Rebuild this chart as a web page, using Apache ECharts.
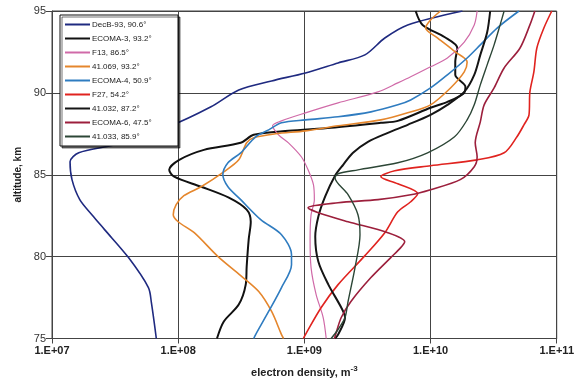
<!DOCTYPE html>
<html>
<head>
<meta charset="utf-8">
<script src="https://cdn.jsdelivr.net/npm/echarts@6/dist/echarts.min.js"></script>
<style>
  html, body { margin: 0; padding: 0; background: #fff; }
  #chart { width: 577px; height: 383px; }
</style>
</head>
<body>
<div id="chart"></div>
<script>
// tick labels
const xTickLabels = ['1.E+07', '1.E+08', '1.E+09', '1.E+10', '1.E+11']
const yTicks = [75, 80, 85, 90, 95]

// profiles: [electron density m-3, altitude km]
const decB93 = [
  [1.79e10, 95.0], [6.59e9, 94.15], [4.34e9, 93.35], [3.02e9, 92.32], [1.85e9, 91.83],
  [1.02e9, 91.22], [5.5e8, 90.73], [3.02e8, 90.18], [1.82e8, 89.15], [8.34e7, 87.93],
  [3.13e7, 86.83], [1.63e7, 86.34], [1.39e7, 85.79], [1.44e7, 84.7], [1.66e7, 83.48],
  [2.07e7, 82.56], [2.61e7, 81.65], [4.04e7, 79.94], [5.81e7, 78.11], [6.13e7, 77.2],
  [6.71e7, 75.0]
]
const ecoma3 = [
  [7.62e9, 95.0], [8.65e9, 94.15], [1.29e10, 93.41], [1.63e10, 92.74], [1.57e10, 91.89],
  [1.57e10, 91.1], [1.89e10, 90.37], [1.82e10, 89.94], [1.36e10, 89.45], [1.0e10, 89.09],
  [5.5e9, 88.29], [4.04e9, 88.17], [1.63e9, 87.87], [7.48e8, 87.68], [3.97e8, 87.44],
  [3.13e8, 86.95], [1.6e8, 86.52], [1.02e8, 85.91], [8.49e7, 85.3], [9.3e7, 84.88],
  [1.52e8, 84.27], [2.52e8, 83.6], [3.49e8, 82.87], [3.76e8, 82.13], [3.62e8, 81.04],
  [3.49e8, 79.39], [3.43e8, 78.29], [3.02e8, 77.07], [2.3e8, 76.04], [2.03e8, 75.0]
]
const f13 = [
  [2.34e10, 95.0], [2.22e10, 94.15], [1.85e10, 93.1], [1.36e10, 92.13], [1.0e10, 91.59],
  [6.96e9, 90.98], [5.5e9, 90.61], [3.83e9, 90.06], [1.85e9, 89.39], [1.02e9, 88.78],
  [6.59e8, 88.29], [5.6e8, 87.99], [6.24e8, 87.44], [7.48e8, 86.95], [9.46e8, 86.1],
  [1.07e9, 85.3], [1.18e9, 84.39], [1.2e9, 83.48], [1.13e9, 82.56], [1.11e9, 81.04],
  [1.13e9, 79.33], [1.24e9, 77.68], [1.41e9, 76.28], [1.49e9, 75.0]
]
const s41069 = [
  [1.2e10, 95.0], [1.0e10, 94.45], [9.14e9, 93.96], [1.14e10, 93.35], [1.57e10, 92.5],
  [1.95e10, 91.89], [1.85e10, 91.28], [1.44e10, 90.3], [1.0e10, 89.27], [6.59e9, 88.78],
  [4.04e9, 88.35], [1.85e9, 87.99], [1.02e9, 87.68], [5.91e8, 87.5], [3.97e8, 87.26],
  [3.49e8, 86.95], [3.02e8, 85.91], [2.3e8, 85.18], [1.52e8, 84.27], [1.11e8, 83.72],
  [9.64e7, 83.17], [9.14e7, 82.56], [1.0e8, 82.13], [1.34e8, 81.46], [2.07e8, 80.0],
  [3.13e8, 78.84], [4.35e8, 77.87], [5.5e8, 76.65], [6.59e8, 75.24], [6.84e8, 75.0]
]
const ecoma4 = [
  [5.02e10, 95.0], [3.37e10, 93.96], [2.48e10, 92.93], [1.95e10, 92.13], [1.36e10, 91.1],
  [1.0e10, 90.3], [6.96e9, 89.57], [5.5e9, 89.27], [3.37e9, 88.84], [1.85e9, 88.54],
  [1.02e9, 88.35], [6.59e8, 88.17], [5.21e8, 87.74], [4.11e8, 87.32], [3.13e8, 86.34],
  [2.48e8, 85.73], [2.26e8, 85.0], [2.48e8, 84.27], [3.13e8, 83.48], [4.51e8, 82.26],
  [6.59e8, 81.34], [7.91e8, 80.12], [7.91e8, 79.51], [6.59e8, 78.11], [5.21e8, 76.65],
  [4.11e8, 75.24], [3.97e8, 75.0]
]
const f27 = [
  [9.14e10, 95.0], [7.91e10, 93.96], [6.96e10, 92.74], [6.59e10, 91.28], [6.13e10, 90.06],
  [6.03e10, 88.66], [5.5e10, 88.05], [4.84e10, 87.32], [3.83e10, 86.34], [2.34e10, 85.91],
  [1.0e10, 85.55], [5.21e9, 85.24], [4.04e9, 84.88], [5.5e9, 84.45], [7.91e9, 83.84],
  [6.96e9, 83.35], [5.5e9, 82.74], [4.34e9, 81.46], [3.02e9, 80.06], [1.85e9, 78.29],
  [1.36e9, 76.89], [1.02e9, 75.24], [9.82e8, 75.0]
]
const s41032 = [
  [2.97e10, 95.0], [2.81e10, 93.7], [2.48e10, 92.32], [2.22e10, 91.1], [1.85e10, 90.06],
  [1.36e10, 89.27], [1.0e10, 88.66], [6.59e9, 88.05], [4.59e9, 87.56], [3.19e9, 87.01],
  [2.43e9, 86.34], [2.03e9, 85.61], [1.75e9, 84.94], [1.46e9, 83.66], [1.29e9, 82.44],
  [1.22e9, 81.22], [1.29e9, 79.7], [1.55e9, 78.29], [1.96e9, 76.89], [2.1e9, 76.28],
  [1.85e9, 75.24], [1.75e9, 75.0]
]
const ecoma6 = [
  [6.71e10, 95.0], [6.13e10, 94.15], [5.12e10, 92.74], [3.83e10, 91.52], [3.19e10, 90.3],
  [2.66e10, 89.27], [2.48e10, 88.23], [2.26e10, 86.95], [2.34e10, 86.1], [2.22e10, 85.49],
  [1.72e10, 84.7], [1.0e10, 84.09], [6.96e9, 83.78], [3.83e9, 83.48], [1.85e9, 83.29],
  [1.07e9, 82.99], [1.29e9, 82.68], [2.22e9, 82.13], [4.59e9, 81.46], [6.24e9, 80.91],
  [5.8e9, 80.55], [4.84e9, 79.94], [3.37e9, 78.72], [2.34e9, 77.26], [1.96e9, 76.28],
  [1.75e9, 75.12], [1.73e9, 75.0]
]
const s41033 = [
  [3.83e10, 95.0], [3.56e10, 94.15], [3.19e10, 92.93], [2.81e10, 91.71], [2.48e10, 90.49],
  [2.22e10, 89.27], [1.95e10, 88.35], [1.55e10, 87.32], [9.47e9, 86.34], [5.5e9, 85.73],
  [2.66e9, 85.3], [1.85e9, 85.06], [1.75e9, 84.82], [2.22e9, 83.78], [2.66e9, 82.56],
  [2.76e9, 81.34], [2.52e9, 79.33], [2.22e9, 77.26], [2.1e9, 76.28], [1.85e9, 75.55],
  [1.63e9, 75.0]
]

const seriesNames = [
  'DecB-93, 90.6°', 'ECOMA-3, 93.2°', 'F13, 86.5°', '41.069, 93.2°', 'ECOMA-4, 50.9°',
  'F27, 54.2°', '41.032, 87.2°', 'ECOMA-6, 47.5°', '41.033, 85.9°'
]
const seriesData = [decB93, ecoma3, f13, s41069, ecoma4, f27, s41032, ecoma6, s41033]
const seriesColors = ['#1f2a80', '#111111', '#d06aa8', '#e5862c', '#2f7cc0', '#e0231f', '#151515', '#9c1f3c', '#2c4636']
const seriesWidths = [1.6, 2, 1.2, 1.6, 1.6, 1.6, 2, 1.6, 1.4]

const chart = echarts.init(document.getElementById('chart'))

chart.setOption({
  animation: false,
  grid: {
    left: 52,
    right: 17,
    top: 11,
    bottom: 44,
    show: true,
    borderColor: '#444',
    borderWidth: 1
  },

  legend: {
    data: seriesNames,
    orient: 'vertical',
    left: 60,
    top: 15,
    padding: [5, 4, 5, 5],
    itemGap: 5,
    itemWidth: 25,
    itemHeight: 2,
    icon: 'rect',
    backgroundColor: '#fff',
    borderColor: '#111',
    borderWidth: 1,
    shadowColor: 'rgba(0,0,0,0.55)',
    shadowOffsetX: 2,
    shadowOffsetY: 2,
    shadowBlur: 0,
    textStyle: {
      fontFamily: 'Liberation Sans, Arial, sans-serif',
      fontSize: 8,
      lineHeight: 9,
      width: 82,
      color: '#222',
      padding: [0, 0, 0, -3]
    }
  },

  xAxis: {
    type: 'log',
    logBase: 10,
    min: 1e7,
    max: 1e11,
    name: '{a|electron density, m}{s|-3}',
    nameLocation: 'middle',
    nameGap: 26,
    nameTextStyle: {
      rich: {
        a: { fontFamily: 'Liberation Sans, Arial', fontWeight: 'bold', fontSize: 11, color: '#222' },
        s: { fontFamily: 'Liberation Sans, Arial', fontWeight: 'bold', fontSize: 8, color: '#222', verticalAlign: 'top', padding: [0, 0, 8, 0] }
      }
    },
    axisLine: { lineStyle: { color: '#444', width: 1 } },
    axisTick: { show: true, inside: false, length: 5, lineStyle: { color: '#444' } },
    minorTick: { show: false },
    splitLine: { show: true, lineStyle: { color: '#444', width: 1 } },
    axisLabel: {
      margin: 7,
      fontFamily: 'Liberation Sans, Arial',
      fontWeight: 'bold',
      fontSize: 11,
      color: '#222',
      formatter: function (v) {
        return xTickLabels[Math.round(Math.log10(v)) - 7]
      }
    }
  },

  yAxis: {
    type: 'value',
    min: yTicks[0],
    max: yTicks[yTicks.length - 1],
    interval: 5,
    name: 'altitude, km',
    nameLocation: 'middle',
    nameGap: 29,
    nameTextStyle: {
      fontFamily: 'Liberation Sans, Arial',
      fontWeight: 'bold',
      fontSize: 10,
      color: '#222'
    },
    axisLine: { show: true, lineStyle: { color: '#444', width: 1 } },
    axisTick: { show: true, inside: false, length: 6, lineStyle: { color: '#444' } },
    splitLine: { show: true, lineStyle: { color: '#444', width: 1 } },
    axisLabel: {
      margin: 6,
      fontFamily: 'Liberation Sans, Arial',
      fontSize: 11,
      color: '#333'
    }
  },

  series: seriesNames.map(function (name, i) {
    return {
      name: name,
      type: 'line',
      data: seriesData[i],
      showSymbol: false,
      smooth: 0.3,
      color: seriesColors[i],
      lineStyle: { color: seriesColors[i], width: seriesWidths[i] },
      z: 2
    }
  })
})
</script>
</body>
</html>
